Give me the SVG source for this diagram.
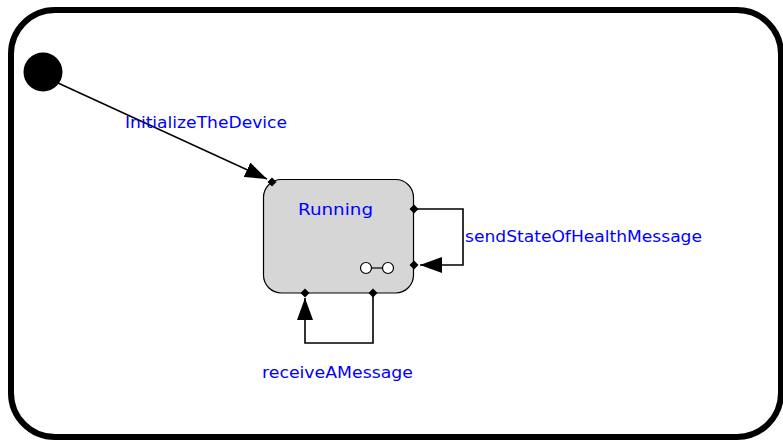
<svg xmlns="http://www.w3.org/2000/svg" width="783" height="442" viewBox="0 0 783 442">
  <style>
    .lbl { font-family: "DejaVu Sans", "Liberation Sans", sans-serif; font-size: 16px; fill: #0000ff; }
    .wire { fill: none; stroke: #000; stroke-width: 1.6; }
    .pin { fill: #000; }
  </style>
  <defs>
    <marker id="arrow" viewBox="0 0 22 16" refX="22" refY="8" markerWidth="22" markerHeight="16" markerUnits="userSpaceOnUse" orient="auto">
      <path d="M0,0 L22,8 L0,16 Z" fill="#000"/>
    </marker>
    <path id="diamond" d="M0,-4.5 L4.5,0 L0,4.5 L-4.5,0 Z"/>
  </defs>

  <rect width="783" height="442" fill="#fff"/>

  <!-- enclosing state -->
  <g id="container">
    <rect x="11" y="10" width="770" height="427" rx="44" ry="44" fill="none" stroke="#000" stroke-width="6"/>
  </g>

  <!-- initial pseudo-state -->
  <g id="initial">
    <circle cx="43" cy="72" r="19.5" fill="#000"/>
  </g>

  <!-- Running state -->
  <g id="running">
    <rect x="263.5" y="179.5" width="150" height="113.5" rx="18" ry="18" fill="#d6d6d6" stroke="#000" stroke-width="1.2"/>
    <text class="lbl" x="298" y="215" textLength="75" lengthAdjust="spacingAndGlyphs">Running</text>
    <!-- decomposition icon -->
    <g fill="#fff" stroke="#000" stroke-width="1.2">
      <line x1="372" y1="268" x2="382" y2="268"/>
      <circle cx="366" cy="268" r="5.5"/>
      <circle cx="388" cy="268" r="5.5"/>
    </g>
  </g>

  <!-- transitions -->
  <g id="connectors">
    <line class="wire" x1="58" y1="83" x2="267" y2="179" marker-end="url(#arrow)"/>
    <polyline class="wire" points="414,209 463,209 463,265 420,265" marker-end="url(#arrow)"/>
    <polyline class="wire" points="373,293 373,343 305,343 305,298" marker-end="url(#arrow)"/>
    <use href="#diamond" class="pin" x="272" y="182"/>
    <use href="#diamond" class="pin" x="414" y="209"/>
    <use href="#diamond" class="pin" x="414" y="265"/>
    <use href="#diamond" class="pin" x="305" y="293"/>
    <use href="#diamond" class="pin" x="373" y="293"/>
  </g>

  <!-- transition labels -->
  <g id="labels">
    <text class="lbl" x="125" y="128" textLength="162" lengthAdjust="spacingAndGlyphs">InitializeTheDevice</text>
    <text class="lbl" x="465" y="242" textLength="237" lengthAdjust="spacingAndGlyphs">sendStateOfHealthMessage</text>
    <text class="lbl" x="262" y="378" textLength="151" lengthAdjust="spacingAndGlyphs">receiveAMessage</text>
  </g>
</svg>
